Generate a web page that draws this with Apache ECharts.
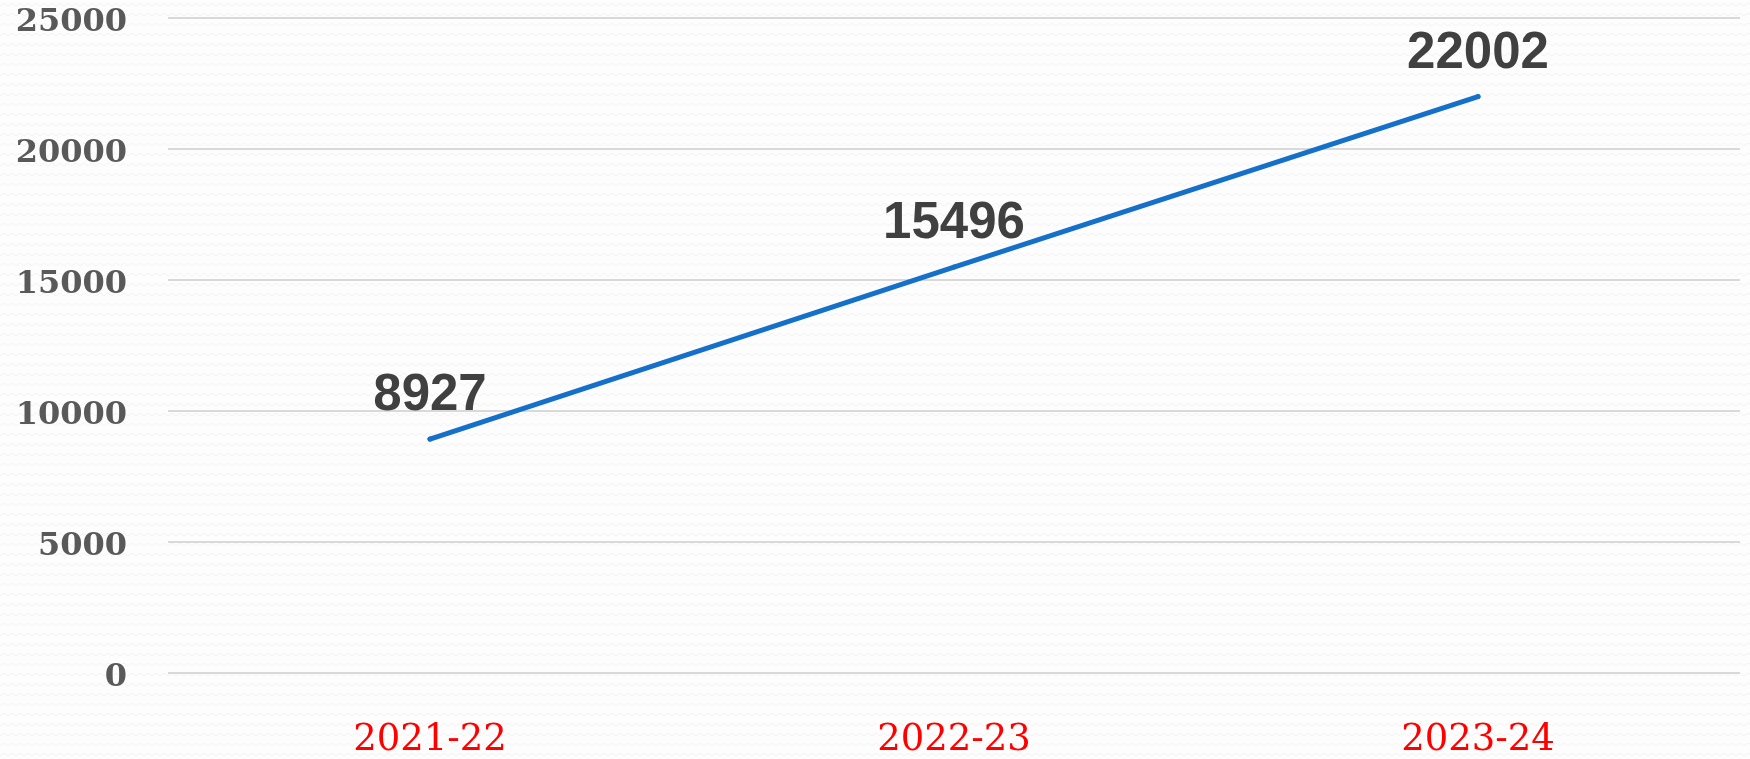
<!DOCTYPE html>
<html>
<head>
<meta charset="utf-8">
<script src="https://cdn.jsdelivr.net/npm/echarts@6/dist/echarts.min.js"></script>
<style>
  html, body { margin: 0; padding: 0; }
  #chart { width: 1750px; height: 759px; }
</style>
</head>
<body>
<div id="chart"></div>
<script>
// data
const years = ['2021-22', '2022-23', '2023-24'];
const counts = [8927, 15496, 22002];

// faint zigzag background like the original slide
function makePattern() {
    const c = document.createElement('canvas');
    c.width = 8;
    c.height = 10;
    const ctx = c.getContext('2d');
    ctx.fillStyle = '#fdfdfd';
    ctx.fillRect(0, 0, 8, 10);
    ctx.strokeStyle = '#f2f2f2';
    ctx.lineWidth = 1;
    ctx.beginPath();
    ctx.moveTo(0, 6);
    ctx.lineTo(4, 3);
    ctx.lineTo(8, 6);
    ctx.stroke();
    return c;
}

const chart = echarts.init(document.getElementById('chart'));

chart.setOption({
    backgroundColor: { image: makePattern(), repeat: 'repeat' },
    animation: false,
    grid: {
        left: 168,
        right: 10,
        top: 18,
        bottom: 86
    },
    xAxis: {
        type: 'category',
        data: years,
        boundaryGap: true,
        axisLine: { show: false },
        axisTick: { show: false },
        axisLabel: {
            color: '#ff0000',
            fontFamily: 'DejaVu Serif',
            fontSize: 37,
            margin: 49
        }
    },
    yAxis: {
        type: 'value',
        min: 0,
        max: 25000,
        interval: 5000,
        axisLine: { show: false },
        axisTick: { show: false },
        axisLabel: {
            color: '#595959',
            fontFamily: 'DejaVu Serif',
            fontWeight: 'bold',
            fontSize: 32,
            margin: 41,
            verticalAlign: 'top',
            lineHeight: 10,
            formatter: (v) => String(v)
        },
        splitLine: {
            lineStyle: { color: '#d9d9d9', width: 2 }
        }
    },
    series: [{
        type: 'line',
        data: counts,
        symbol: 'circle',
        symbolSize: 5,
        itemStyle: { color: '#1570c9', borderWidth: 0 },
        lineStyle: {
            color: '#1570c9',
            width: 5,
            cap: 'round'
        },
        label: {
            show: true,
            position: 'top',
            distance: 15,
            color: '#404040',
            fontFamily: 'Liberation Sans',
            fontWeight: 'bold',
            fontSize: 51
        }
    }]
});
</script>
</body>
</html>
